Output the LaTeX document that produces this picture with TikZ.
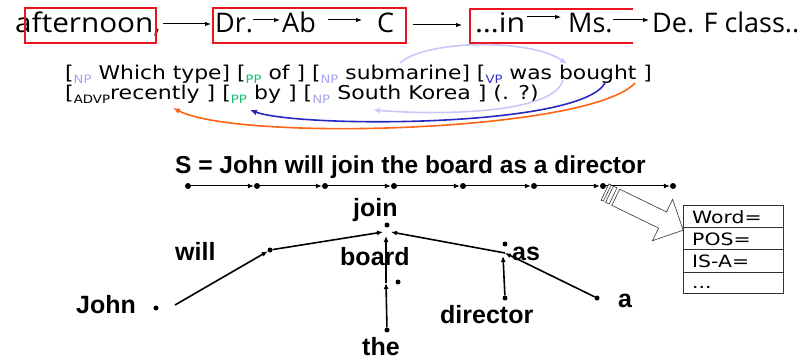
\documentclass[tikz,border=0pt]{standalone}
\usepackage{fontspec}
\setmainfont{DejaVu Sans}
\newfontfamily\handfont{Open Sans}
\newfontfamily\arialfont{Liberation Sans}
\usetikzlibrary{arrows.meta}
\definecolor{boxred}{RGB}{235,20,30}
\definecolor{npcol}{RGB}{165,165,240}
\definecolor{ppcol}{RGB}{20,190,110}
\definecolor{vpcol}{RGB}{50,50,200}
\definecolor{lav}{RGB}{200,200,250}
\definecolor{bluecurve}{RGB}{40,40,190}
\definecolor{orangecurve}{RGB}{255,100,20}
\newcommand\cattag[2]{\raisebox{-0.35ex}{\fontsize{11.5}{11.5}\selectfont\textcolor{#1}{#2}}}
\begin{document}
\begin{tikzpicture}[x=1pt,y=-1pt,
  hand/.style={font=\handfont\fontsize{27}{27}\selectfont, inner sep=0pt, anchor=base west},
  rowtxt/.style={font=\fontsize{19}{19}\selectfont, inner sep=0pt, anchor=base west},
  titletxt/.style={font=\arialfont\bfseries\fontsize{24.5}{24.5}\selectfont, inner sep=0pt, anchor=base west},
  word/.style={font=\arialfont\bfseries\fontsize{25}{25}\selectfont, inner sep=0pt, anchor=base west},
  celltxt/.style={font=\fontsize{17}{17}\selectfont, inner sep=0pt, anchor=base west},
  redbox/.style={draw=boxred, line width=1.6pt},
  thinarr/.style={-{Latex[length=6pt,width=4.5pt]}, line width=1pt},
  dot/.style={circle, fill=black, inner sep=0pt, minimum size=6pt},
  chainarr/.style={-{Latex[length=6pt,width=5pt]}, line width=1pt},
  treearr/.style={-{Latex[length=6pt,width=5pt]}, line width=1.6pt},
  curvearr/.style={-{Latex[length=7pt,width=6pt]}, line width=1.6pt},
  cellbox/.style={draw=black!80, line width=0.8pt, minimum width=100pt, minimum height=22pt, inner sep=0pt, anchor=north west},
]
\useasboundingbox (0,0) rectangle (810,363);

% ---------- top row ----------
\node[hand] (aft) at (15,33) {\scalebox{1.1}[1]{afternoon,}};
\node[hand] (dr) at (215,33) {Dr.};
\node[hand] (ab) at (282,33) {Ab};
\node[hand] (cc) at (377,33) {C};
\node[hand] (inw) at (475,33) {\scalebox{1.12}[1]{\ldots in}};
\node[hand] (ms) at (568,33) {Ms.};
\node[hand] (de) at (652,33) {De. F class..};
\draw[redbox] (25,8) rectangle (156,43);
\draw[redbox] (213,8) rectangle (406,43);
\draw[redbox] (633,9) -- (470,9) -- (470,43) -- (633,43);
\coordinate (a1s) at (163,24); \coordinate (a1e) at (211,24);
\coordinate (a2s) at (253,20); \coordinate (a2e) at (280,20);
\coordinate (a3s) at (328,20); \coordinate (a3e) at (362,20);
\coordinate (a4s) at (413,25); \coordinate (a4e) at (462,25);
\coordinate (a5s) at (527,17); \coordinate (a5e) at (561,17);
\coordinate (a6s) at (613,20); \coordinate (a6e) at (649,20);
\foreach \i in {1,...,6} \draw[thinarr] (a\i s) -- (a\i e);

% ---------- bracketed sentence ----------
\node[rowtxt] (l1) at (65,80) {\scalebox{1.15}[1]{[\cattag{npcol}{NP} Which type] [\cattag{ppcol}{PP} of ] [\cattag{npcol}{NP} submarine] [\cattag{vpcol}{VP} was bought ]}};
\node[rowtxt] (l2) at (65,100) {\scalebox{1.16}[1]{[\cattag{black}{ADVP}recently ] [\cattag{ppcol}{PP} by ] [\cattag{npcol}{NP} South Korea ] (. ?)}};
\coordinate (lv1s) at (400,63); \coordinate (lv1e) at (567,64);
\coordinate (lv2s) at (563,80); \coordinate (lv2e) at (373,110);
\coordinate (bls) at (605,83); \coordinate (ble) at (250,110);
\coordinate (ors) at (635,83); \coordinate (ore) at (173,108);
\draw[curvearr, lav] (lv1s) .. controls (425,40) and (530,38) .. (lv1e);
\draw[curvearr, lav] (lv2s) .. controls (555,112) and (450,116) .. (lv2e);
\draw[curvearr, bluecurve] (bls) .. controls (580,128) and (300,128) .. (ble);
\draw[curvearr, orangecurve] (ors) .. controls (590,132) and (240,142) .. (ore);

% ---------- title and chain ----------
\node[titletxt] (title) at (175,174) {S = John will join the board as a director};
\foreach \x [count=\i] in {188,257,325,394,463,534,603,673}
  \node[dot] (c\i) at (\x,186) {};
\foreach \i [evaluate=\i as \j using int(\i+1)] in {1,...,7}
  \draw[chainarr] (c\i) -- (c\j);

% ---------- striped block arrow ----------
\begin{scope}[shift={(605,192)}, rotate=-26]
  \draw[fill=white, line width=0.6pt, draw=black!80] (12,-9) -- (64,-9) -- (64,-23) -- (87,0) -- (64,23) -- (64,9) -- (12,9) -- cycle;
  \draw[fill=white, line width=0.6pt, draw=black!80] (0,-9) rectangle (2.5,9);
  \draw[fill=white, line width=0.6pt, draw=black!80] (5,-9) rectangle (9,9);
\end{scope}

% ---------- feature table ----------
\node[cellbox] (r1) at (683,205) {};
\node[cellbox] (r2) at (683,227) {};
\node[cellbox, minimum height=23pt] (r3) at (683,249) {};
\node[cellbox, minimum height=21pt] (r4) at (683,272) {};
\node[celltxt] (t1) at (692,223) {\scalebox{1.2}[1]{Word=}};
\node[celltxt] (t2) at (692,245) {\scalebox{1.2}[1]{POS=}};
\node[celltxt] (t3) at (692,267) {\scalebox{1.2}[1]{IS-A=}};
\node[celltxt] (t4) at (692,288) {\scalebox{1.2}[1]{...}};

% ---------- dependency tree ----------
\node[word] (john) at (76,313) {John};
\node[word] (will) at (175,260) {will};
\node[word] (join) at (353,217) {join};
\node[word] (board) at (340,265) {board};
\node[word] (as) at (512,260) {as};
\node[word] (the) at (362,355) {the};
\node[word] (director) at (440,323) {director};
\node[word] (aw) at (618,307) {a};
\node[dot, minimum size=5pt] (johnd) at (156,308) {};
\node[dot, minimum size=5pt] (willd) at (270,250) {};
\node[dot, minimum size=5pt] (joind) at (387,225) {};
\node[dot, minimum size=5pt] (boardd) at (398,282) {};
\node[dot, minimum size=5pt] (thed) at (387,330) {};
\node[dot, minimum size=5pt] (asd) at (505,244) {};
\node[dot, minimum size=5pt] (dird) at (505,298) {};
\node[dot, minimum size=5pt] (ad) at (597,298) {};
\coordinate (jstart) at (175,305);
\coordinate (jinL) at (383,232);
\coordinate (jinR) at (391,232);
\coordinate (jinB) at (386,236);
\coordinate (bin) at (386,283);
\coordinate (asin) at (503,256);
\coordinate (asj) at (505,253);
\draw[treearr] (jstart) -- (willd);
\draw[treearr] (willd) -- (jinL);
\draw[treearr] (asj) -- (jinR);
\draw[treearr] (thed) -- (bin);
\draw[treearr] (bin) -- (jinB);
\draw[treearr] (dird) -- (asin);
\draw[treearr] (ad) -- (asj);
\end{tikzpicture}
\end{document}
